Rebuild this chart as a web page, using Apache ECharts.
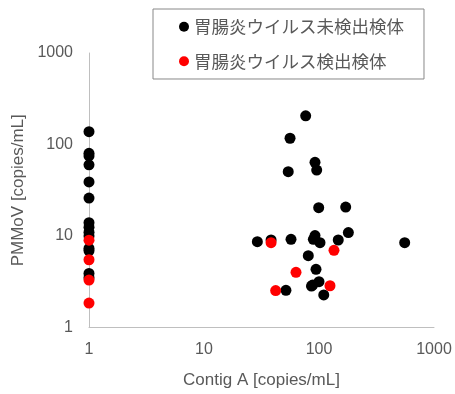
<!DOCTYPE html>
<html><head><meta charset="utf-8">
<script src="https://cdn.jsdelivr.net/npm/echarts@6/dist/echarts.min.js"></script>
<style>html,body{margin:0;padding:0;background:#fff}#c{width:455px;height:394px}</style>
</head><body><div id="c"></div>
<script>
var seriesNames = ['胃腸炎ウイルス未検出検体', '胃腸炎ウイルス検出検体'];
var xTicks = [1, 10, 100, 1000];
var yTicks = [1, 10, 100, 1000];
// 未検出 (black)
var negX = [1,1,1,1,1,1,1,1,1,1,1,1,1,1,
  76.6,56,92.3,95.5,54,99.4,170.7,180,29.1,38.3,57.1,92.3,89.3,102,147,556,80.7,94.2,100,88.1,86,51.6,110];
var negY = [138,80,75,60,39,26,14,12.5,11,10,7.3,6.9,3.9,3.5,
  206,117,63.9,52.6,50.4,20.4,20.7,10.9,8.67,9.04,9.2,10.1,9.2,8.45,9.04,8.45,6.1,4.32,3.17,2.91,2.84,2.55,2.27];
// 検出 (red)
var posX = [1,1,1,1, 38.3,135,63.1,124.6,42];
var posY = [9,5.5,3.3,1.85, 8.45,6.98,4.01,2.86,2.53];

function pairs(xs, ys){ return xs.map(function(x,i){ return [x, ys[i]]; }); }
function fmt(v){ return String(Math.round(v)); }

var font = 'Liberation Sans, Noto Sans CJK JP, sans-serif';
var chart = echarts.init(document.getElementById('c'));
chart.setOption({
  animation: false,
  grid: {left: 89, right: 21, top: 53, bottom: 66.5},
  legend: {
    orient: 'vertical', left: 153, top: 9,
    padding: [9, 20, 9, 26], itemGap: 17,
    borderColor: '#888', borderWidth: 1, backgroundColor: '#fff',
    icon: 'circle', itemWidth: 10, itemHeight: 10,
    textStyle: {fontSize: 17.5, color: '#595959', fontFamily: 'Noto Sans CJK JP'},
    data: seriesNames
  },
  xAxis: {
    type: 'log', logBase: 10, min: xTicks[0], max: xTicks[xTicks.length-1],
    name: 'Contig A [copies/mL]', nameLocation: 'middle', nameGap: 44,
    nameTextStyle: {fontSize: 17, color: '#595959', fontFamily: font},
    axisLine: {lineStyle: {color: '#bfbfbf', width: 1}},
    axisTick: {show: false}, splitLine: {show: false},
    axisLabel: {fontSize: 16, color: '#595959', margin: 14, fontFamily: font, formatter: fmt}
  },
  yAxis: {
    type: 'log', logBase: 10, min: yTicks[0], max: yTicks[yTicks.length-1],
    name: 'PMMoV [copies/mL]', nameLocation: 'middle', nameGap: 54,
    nameTextStyle: {fontSize: 17, color: '#595959', fontFamily: font},
    axisLine: {show: true, lineStyle: {color: '#bfbfbf', width: 1}},
    axisTick: {show: false}, splitLine: {show: false},
    axisLabel: {fontSize: 16, color: '#595959', margin: 16, fontFamily: font, formatter: fmt}
  },
  series: [
    {name: seriesNames[0], type: 'scatter', symbolSize: 11, clip: false,
     itemStyle: {color: '#000000', opacity: 1}, data: pairs(negX, negY)},
    {name: seriesNames[1], type: 'scatter', symbolSize: 11, clip: false,
     itemStyle: {color: '#ff0000', opacity: 1}, data: pairs(posX, posY)}
  ]
});
</script></body></html>
